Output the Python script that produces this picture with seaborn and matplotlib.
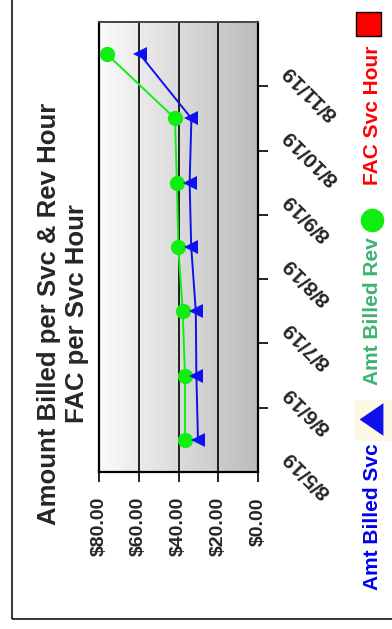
import numpy as np
import pandas as pd
import seaborn as sns
import matplotlib.pyplot as plt
import matplotlib.transforms as mtransforms
from matplotlib.colors import LinearSegmentedColormap
from matplotlib.patches import Rectangle
from matplotlib.lines import Line2D

# values (the whole chart is turned 90 degrees)
dates = ['8/5/19', '8/6/19', '8/7/19', '8/8/19', '8/9/19', '8/10/19', '8/11/19']
amt_billed_svc = [30.2, 31.0, 31.3, 33.6, 34.4, 33.5, 59.5]
amt_billed_rev = [36.7, 36.7, 37.9, 40.1, 40.8, 41.8, 76.0]
value_ticks = [0, 20, 40, 60, 80]
value_labels = ['$0.00', '$20.00', '$40.00', '$60.00', '$80.00']

df = pd.DataFrame({'pos': np.arange(len(dates)), 'svc': amt_billed_svc, 'rev': amt_billed_rev})

sns.set_style('white')
plt.rcParams['font.family'] = ['Liberation Sans', 'DejaVu Sans']
plt.rcParams['font.weight'] = 'bold'

W, H = 392, 629
fig = plt.figure(figsize=(W / 100, H / 100), dpi=100)


def fx(px):
    return px / W


def fy(py):
    return (H - py) / H


ax = fig.add_axes([fx(99), fy(472), fx(258) - fx(99), fy(22) - fy(472)])

# gradient background, light on the $80 side
grad = np.linspace(0, 1, 256).reshape(1, -1)
ax.imshow(grad, cmap=LinearSegmentedColormap.from_list('g', ['#fbfbfb', '#bcbcbc']),
          extent=[0, 1, 0, 1], transform=ax.transAxes, aspect='auto', zorder=0)

for v in [20, 40, 60]:
    ax.axvline(v, color='black', lw=1.2, zorder=1)

sns.lineplot(data=df, x='rev', y='pos', orient='y', sort=False, estimator=None, ax=ax,
             color='#11ee11', lw=1.4, marker='o', markersize=11, markeredgewidth=0, zorder=3)
sns.lineplot(data=df, x='svc', y='pos', orient='y', sort=False, estimator=None, ax=ax,
             color='#1010ee', lw=1.4, marker='<', markersize=10.5, markeredgewidth=0, zorder=4)

ax.set_xlim(80, 0)
ax.set_ylim(-0.5, len(dates) - 0.5)
ax.set_xlabel('')
ax.set_ylabel('')
ax.set_xticks(value_ticks)
ax.set_xticklabels(value_labels, rotation=90, fontsize=14, fontweight='bold')
ax.tick_params(axis='x', bottom=True, length=7, width=1.2, direction='out', pad=11, color='black')

# category axis on the right, ticks between categories
ax.yaxis.tick_right()
ax.set_yticks(np.arange(len(dates) - 1) + 0.5)
ax.set_yticklabels([])
ax.tick_params(axis='y', right=True, left=False, length=7, width=1.2, direction='out', color='black')

off = mtransforms.ScaledTranslation(28 / 100, -14 / 100, fig.dpi_scale_trans)
trans = ax.get_yaxis_transform() + off
for i, d in enumerate(dates):
    ax.text(1.0, i, d, transform=trans, rotation=135, rotation_mode='anchor',
            ha='right', va='center', fontsize=15, fontweight='bold', clip_on=False)

for s in ['left', 'right', 'bottom']:
    ax.spines[s].set_color('black')
    ax.spines[s].set_linewidth(1.6)
ax.spines['top'].set_color('#444444')
ax.spines['top'].set_linewidth(1.4)

# title, turned with the chart
fig.text(fx(63), fy(314), 'Amount Billed per Svc & Rev Hour\nFAC per Svc Hour', rotation=90,
         ha='center', va='center', fontsize=18.5, fontweight='bold', linespacing=1.22)

# legend, drawn by hand along the right edge
fig.text(fx(373), fy(590), 'Amt Billed Svc', rotation=90, ha='center', va='bottom',
         fontsize=15, fontweight='bold', color='#0000ee')
fig.text(fx(373), fy(385), 'Amt Billed Rev', rotation=90, ha='center', va='bottom',
         fontsize=15, fontweight='bold', color='#3cb371')
fig.text(fx(373), fy(185), 'FAC Svc Hour', rotation=90, ha='center', va='bottom',
         fontsize=15, fontweight='bold', color='#ff0000')

fig.add_artist(Rectangle((fx(355), fy(441)), fx(392) - fx(355), fy(400) - fy(441),
                         transform=fig.transFigure, facecolor='#fbf8e6', edgecolor='none'))
fig.add_artist(Line2D([fx(371)], [fy(419)], transform=fig.transFigure,
                      marker=[(-0.73, 0), (0.73, 1), (0.73, -1)],
                      markersize=23.5, color='#1010ee', markeredgewidth=0))
fig.add_artist(Line2D([fx(372)], [fy(220)], transform=fig.transFigure, marker='o',
                      markersize=17, color='#11ee11', markeredgewidth=0))
fig.add_artist(Rectangle((fx(356), fy(36)), fx(381) - fx(356), fy(12) - fy(36),
                         transform=fig.transFigure, facecolor='#ff0000', edgecolor='black', lw=1))

# outer frame (left and bottom edges show)
fig.add_artist(Rectangle((fx(11.5), fy(619)), 2, 2, transform=fig.transFigure,
                         facecolor='none', edgecolor='black', lw=1.1))

fig.savefig('out.png', dpi=100)
